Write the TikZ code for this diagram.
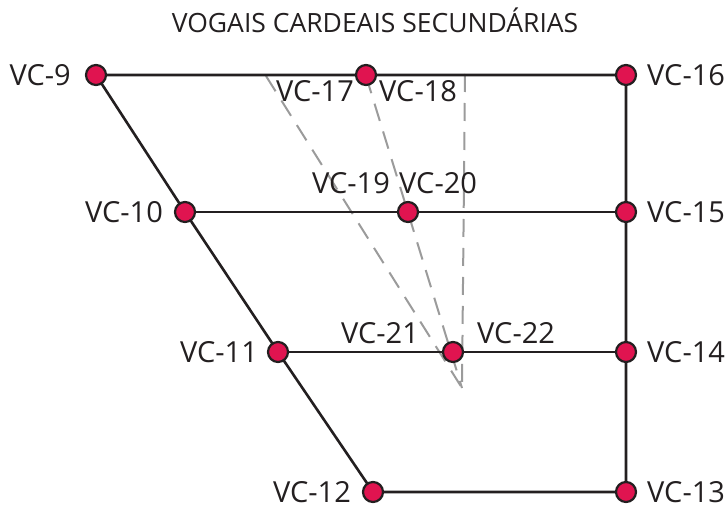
\documentclass[tikz,border=0pt]{standalone}
\usepackage{fontspec}
\setmainfont{Open Sans}
\usetikzlibrary{backgrounds}
\definecolor{dotred}{RGB}{224,20,80}
\definecolor{ink}{RGB}{35,31,32}
\definecolor{guidegray}{RGB}{155,155,155}
\begin{document}
\begin{tikzpicture}[x=1pt,y=-1pt,
  dot/.style={circle,draw=ink,line width=2.2pt,fill=dotred,minimum size=20pt,inner sep=0pt},
  lbl/.style={font=\fontsize{29}{29}\selectfont,text=ink,inner sep=0pt},
  titlelbl/.style={font=\fontsize{26.5}{26.5}\selectfont,text=ink,inner sep=0pt},
  edge/.style={draw=ink,line width=2.6pt},
  guide/.style={draw=guidegray,line width=2pt,dash pattern=on 18pt off 11pt}]
\useasboundingbox (0,0) rectangle (727,508);

% title
\node[titlelbl] (title) at (375,20) {VOGAIS CARDEAIS SECUNDÁRIAS};

% dots
\node[dot] (v9)  at (96,75) {};
\node[dot] (v10) at (185,212) {};
\node[dot] (v11) at (278,352) {};
\node[dot] (v12) at (373,492) {};
\node[dot] (v16) at (626,75) {};
\node[dot] (v15) at (626,212) {};
\node[dot] (v14) at (626,352) {};
\node[dot] (v13) at (626,492) {};
\node[dot] (m1) at (366,75) {};
\node[dot] (m2) at (408,212) {};
\node[dot] (m3) at (453,352) {};

% guide (dashed) lines
\coordinate (gA) at (266,76);
\coordinate (gB) at (366,76);
\coordinate (gC) at (465,74);
\coordinate (gEnd) at (462,388);

\begin{scope}[on background layer]
\draw[guide] (gA) -- (gEnd);
\draw[guide] (gB) -- (gEnd);
\draw[guide] (gC) -- (gEnd);
\draw[edge] (v9.center) -- (m1.center) -- (v16.center) -- (v15.center) -- (v14.center) -- (v13.center) -- (v12.center) -- (v11.center) -- (v10.center) -- (v9.center);
\draw[edge] (v10.center) -- (m2.center) -- (v15.center);
\draw[edge] (v11.center) -- (m3.center) -- (v14.center);
\end{scope}

% labels
\node[lbl,anchor=east] (l9)  at (71,75)  {VC-9};
\node[lbl,anchor=east] (l10) at (163,212) {VC-10};
\node[lbl,anchor=east] (l11) at (258,352) {VC-11};
\node[lbl,anchor=east] (l12) at (351,492) {VC-12};
\node[lbl,anchor=west] (l16) at (647,75)  {VC-16};
\node[lbl,anchor=west] (l15) at (647,212) {VC-15};
\node[lbl,anchor=west] (l14) at (647,352) {VC-14};
\node[lbl,anchor=west] (l13) at (647,492) {VC-13};
\node[lbl,anchor=east] (l17) at (354,91)  {VC-17};
\node[lbl,anchor=west] (l18) at (379,91)  {VC-18};
\node[lbl,anchor=east] (l19) at (390,183) {VC-19};
\node[lbl,anchor=west] (l20) at (399,183) {VC-20};
\node[lbl,anchor=east] (l21) at (419,333) {VC-21};
\node[lbl,anchor=west] (l22) at (477,333) {VC-22};
\end{tikzpicture}
\end{document}
